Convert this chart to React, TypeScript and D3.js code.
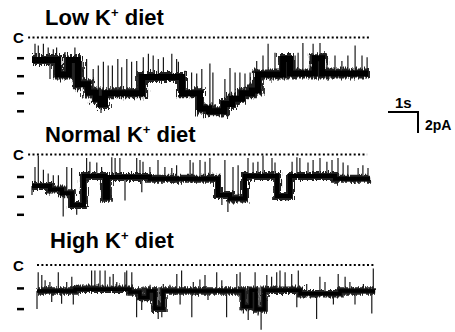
import React from 'react';
import * as d3 from 'd3';

// dwell levels: [time (s), current (pA)] - each holds until the next one
const lowLevels: [number, number][] = [
  [0, -2.5], [0.87, -4.1], [1.23, -2.5], [1.53, -5.2], [1.87, -6.1], [2.13, -6.8], [2.3, -7.4],
  [2.43, -6.2], [3.67, -4.4], [5.0, -6.2], [5.6, -7.9], [5.9, -8.2], [6.4, -7.4], [6.67, -6.8],
  [7.0, -6.2], [7.33, -5.9], [7.53, -4.1], [8.37, -2.4], [8.6, -4.0], [9.43, -2.3], [9.67, -4.0],
];
// brief transitions: [time (s), tip current (pA)]
const lowSpikes: [number, number][] = [
  [0.1, -0.7], [0.21, -0.9], [0.38, -0.7], [0.54, -1.1], [0.6, -4.6], [0.71, -1.3], [0.82, -1.1],
  [1.1, -1.6], [1.21, -2.0], [1.43, -1.1], [1.66, -2.6], [1.82, -2.4], [2.04, -3.5], [2.21, -3.1],
  [2.3, -8.4], [2.38, -2.7], [2.54, -3.1], [2.68, -3.1], [2.86, -2.4], [2.99, -3.3], [3.16, -2.4],
  [3.32, -2.7], [3.49, -2.6], [3.71, -2.2], [3.88, -1.8], [4.04, -2.0], [4.21, -2.4], [4.38, -2.2],
  [4.66, -1.8], [4.82, -2.4], [4.88, -2.7], [5.1, -3.7], [5.32, -3.9], [5.49, -4.0], [5.66, -3.5],
  [5.93, -2.9], [6.03, -3.9], [6.33, -8.9], [6.43, -4.6], [6.6, -3.4], [6.77, -3.9], [6.93, -3.9],
  [7.1, -4.0], [7.27, -3.9], [7.49, -2.6], [7.6, -6.4], [7.7, -2.0], [7.87, -0.7], [8.1, -1.7],
  [8.27, -2.6], [8.77, -2.0], [8.87, -1.7], [9.03, -0.6], [9.27, -2.0], [9.37, -0.7], [9.6, -0.6],
  [9.83, -2.2], [10.1, -2.0], [10.33, -2.6], [10.53, -2.0], [10.77, -0.9], [11.0, -2.0], [11.17, -2.2],
];

const normalLevels: [number, number][] = [
  [0, -3.5], [0.6, -3.9], [1.0, -4.3], [1.33, -5.6], [1.73, -2.4], [2.43, -4.8], [2.53, -2.5],
  [3.93, -2.7], [6.2, -4.5], [6.6, -4.9], [7.1, -2.4], [8.17, -4.6], [8.6, -2.4], [10.1, -2.7],
];
const normalSpikes: [number, number][] = [
  [0.0, -4.5], [0.1, -1.4], [0.21, -0.1], [0.38, -1.7], [0.54, -2.1], [0.71, -2.3], [0.88, -2.3],
  [1.04, -6.9], [1.16, -1.4], [1.32, -1.5], [1.49, -6.7], [1.66, -2.5], [1.82, -0.4], [1.93, -0.8],
  [2.16, -0.9], [2.32, -1.4], [2.66, -0.3], [2.77, -0.4], [2.93, -0.4], [3.1, -5.1], [3.49, -0.4],
  [3.6, -0.6], [3.66, -4.2], [3.7, -0.8], [3.93, -1.4], [4.2, -0.6], [4.43, -1.4], [4.66, -1.5],
  [4.82, -1.2], [5.27, -0.6], [5.37, -0.9], [5.6, -0.6], [5.77, -0.8], [5.93, -0.4], [6.33, -5.6],
  [6.43, -0.6], [6.53, -6.4], [6.7, -1.4], [6.83, -5.4], [6.87, -1.2], [7.0, -5.4], [7.2, -0.4],
  [7.37, -0.9], [7.53, -0.8], [7.7, -0.1], [8.0, -0.4], [8.1, -0.9], [8.33, -5.1], [8.5, -5.1],
  [8.67, -0.8], [8.83, -0.3], [8.93, -0.4], [9.2, -0.9], [9.37, -0.6], [9.6, -0.4], [9.83, -0.8],
  [10.0, -0.6], [10.2, -0.4], [10.37, -0.9], [10.53, -1.2], [10.87, -1.5], [11.03, -1.2], [11.2, -1.5],
];

const highLevels: [number, number][] = [
  [0, -2.9], [1.27, -2.7], [3.1, -3.0], [3.43, -3.6], [3.7, -2.9], [3.93, -4.8], [4.2, -2.9],
  [6.87, -4.6], [7.13, -2.8], [7.3, -4.9], [7.57, -2.8], [8.77, -3.2], [10.1, -2.9],
];
const highSpikes: [number, number][] = [
  [0.0, -4.9], [0.04, -0.8], [0.16, -1.1], [0.27, -1.7], [0.43, -1.9], [0.49, -4.1], [0.71, -0.8],
  [0.82, -4.3], [0.99, -1.9], [1.16, -1.3], [1.21, -4.4], [1.32, -2.2], [1.82, -0.6], [1.93, -0.6],
  [2.1, -0.6], [2.27, -0.6], [2.43, -1.3], [2.54, -1.0], [2.66, -1.9], [2.93, -0.8], [2.99, -0.6],
  [3.16, -0.8], [3.32, -5.8], [3.49, -5.0], [3.54, -2.4], [3.77, -2.2], [4.04, -6.0], [4.16, -5.8],
  [4.21, -2.1], [4.43, -2.2], [4.66, -1.0], [4.77, -4.4], [4.82, -0.6], [5.16, -5.8], [5.21, -1.9],
  [5.43, -1.6], [5.6, -1.1], [5.7, -3.9], [5.99, -0.8], [6.16, -1.7], [6.32, -5.8], [6.66, -1.0],
  [6.77, -0.8], [6.88, -5.4], [7.04, -6.1], [7.27, -0.8], [7.37, -5.6], [7.47, -7.2], [7.66, -1.1],
  [7.82, -1.3], [7.99, -0.8], [8.1, -0.6], [8.27, -0.8], [8.49, -1.0], [8.66, -4.7], [8.71, -0.6],
  [8.99, -2.1], [9.32, -6.0], [9.43, -1.3], [9.6, -1.9], [9.88, -4.4], [10.04, -1.0], [10.27, -1.3],
  [10.43, -1.9], [10.6, -4.4], [10.88, -2.1], [11.16, -5.4], [11.21, -0.4],
];

const titles = ['Low K', 'Normal K', 'High K'];
const lowTicks = [-2.3, -4.3, -6.2, -8.2];
const normalTicks = [-2.5, -4.7, -6.7];
const highTicks = [-2.6, -4.9];

const font = "'Liberation Sans', Arial, Helvetica, sans-serif";
const pxPerPA = 9;
const pxPerS = 30;

type Panel = {
  title: string;
  levels: [number, number][];
  spikes: [number, number][];
  ticks: number[];
  end: number;
  cy: number; // pixel of closed level
  x0: number;
  titleY: number;
  dotFrom: number;
  dotTo: number;
  band: number;
  jitter: number;
};

const panels: Panel[] = [
  { title: titles[0], levels: lowLevels, spikes: lowSpikes, ticks: lowTicks, end: 11.2,
    cy: 37.5, x0: 32, titleY: 25, dotFrom: -0.13, dotTo: 11.27, band: 6, jitter: 10 },
  { title: titles[1], levels: normalLevels, spikes: normalSpikes, ticks: normalTicks, end: 11.27,
    cy: 154.5, x0: 32, titleY: 141.5, dotFrom: -0.13, dotTo: 11.17, band: 4, jitter: 7 },
  { title: titles[2], levels: highLevels, spikes: highSpikes, ticks: highTicks, end: 11.27,
    cy: 265, x0: 37, titleY: 248, dotFrom: 0, dotTo: 11.27, band: 3.5, jitter: 6 },
];

function levelAt(levels: [number, number][], t: number) {
  let v = levels[0][1];
  for (const [tt, val] of levels) if (tt <= t) v = val;
  return v;
}

function Trace({ p, idx }: { p: Panel; idx: number }) {
  const x = d3.scaleLinear().domain([0, 1]).range([p.x0, p.x0 + pxPerS]);
  const y = d3.scaleLinear().domain([0, -1]).range([p.cy, p.cy + pxPerPA]);
  const pts: [number, number][] = [...p.levels, [p.end, p.levels[p.levels.length - 1][1]]];
  const line = d3.line<[number, number]>()
    .x(d => x(d[0]))
    .y(d => y(d[1]))
    .curve(d3.curveStepAfter);
  const d = line(pts) || '';
  return (
    <g>
      <defs>
        <filter id={`rough${idx}`} x="-5%" y="-50%" width="110%" height="200%">
          <feTurbulence type="fractalNoise" baseFrequency="1.3 0.1" numOctaves={2} seed={idx + 4} result="n" />
          <feDisplacementMap in="SourceGraphic" in2="n" scale={p.jitter} xChannelSelector="A" yChannelSelector="G" />
        </filter>
      </defs>
      <text x={p.x0 + 13} y={p.titleY} fontFamily={font} fontWeight="bold" fontSize={22}>
        {p.title}
        <tspan fontSize={13} dy={-8}>+</tspan>
        <tspan dy={8}> diet</tspan>
      </text>
      <text x={13} y={p.cy + 5.5} fontFamily={font} fontWeight="bold" fontSize={15}>C</text>
      <line x1={x(p.dotFrom)} x2={x(p.dotTo)} y1={p.cy} y2={p.cy}
        stroke="#000" strokeWidth={2} strokeDasharray="2 2.4" />
      {p.ticks.map((t, i) => (
        <line key={i} x1={17} x2={24} y1={y(t)} y2={y(t)} stroke="#000" strokeWidth={2.5} />
      ))}
      {p.spikes.map(([t, v], i) => (
        <line key={i} x1={x(t)} x2={x(t)} y1={y(levelAt(p.levels, t))} y2={y(v)}
          stroke="#1a1a1a" strokeWidth={1.2} />
      ))}
      <g filter={`url(#rough${idx})`}>
        <path d={d} fill="none" stroke="#222" strokeWidth={p.band + 4} />
      </g>
      <path d={d} fill="none" stroke="#000" strokeWidth={p.band} />
    </g>
  );
}

export default function App() {
  const sx = d3.scaleLinear().domain([0, 1]).range([388, 388 + pxPerS]);
  return (
    <svg width={455} height={332} style={{ position: 'absolute', left: 0, top: 0, background: '#fff' }}>
      {panels.map((p, i) => <Trace key={i} p={p} idx={i} />)}
      <g>
        <text x={395} y={108} fontFamily={font} fontWeight="bold" fontSize={15}>1s</text>
        <path d={`M${sx(0)},112 H${sx(1)} V133`} fill="none" stroke="#000" strokeWidth={2} />
        <text x={425} y={130} fontFamily={font} fontWeight="bold" fontSize={14}>2pA</text>
      </g>
    </svg>
  );
}
